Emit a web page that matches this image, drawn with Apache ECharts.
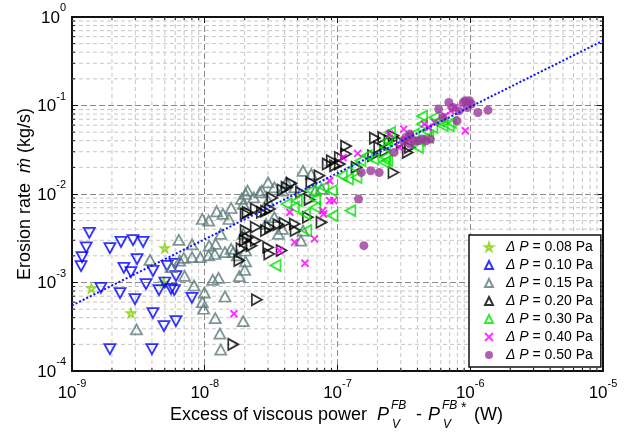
<!DOCTYPE html>
<html><head><meta charset="utf-8">
<script src="https://cdn.jsdelivr.net/npm/echarts@6/dist/echarts.min.js"></script>
<style>html,body{margin:0;padding:0;background:#fff}#c{width:643px;height:435px}</style>
</head><body><div id="c"></div>
<script>
// ---- data (x: excess viscous power W, y: erosion rate kg/s) ----
const seriesNames = ['ΔP = 0.08 Pa','ΔP = 0.10 Pa','ΔP = 0.15 Pa','ΔP = 0.20 Pa','ΔP = 0.30 Pa','ΔP = 0.40 Pa','ΔP = 0.50 Pa'];
const dp008 = [[1.40e-9,8.6e-4],[2.78e-9,4.5e-4],[5.0e-9,2.45e-3],[4.9e-9,1.0e-3]];
const dp010 = [[1.35e-9,3.63e-3],[1.28e-9,2.50e-3],[1.19e-9,1.93e-3],[1.17e-9,1.53e-3],[1.65e-9,8.7e-4],[1.93e-9,2.45e-3],[2.34e-9,2.87e-3],[2.88e-9,3.02e-3],[3.43e-9,2.87e-3],[3.09e-9,1.84e-3],[2.46e-9,1.46e-3],[2.78e-9,1.31e-3],[4.07e-9,1.35e-3],[5.2e-9,1.54e-3],[5.97e-9,1.62e-3],[6.07e-9,1.18e-3],[3.61e-9,9.6e-4],[5.0e-9,1.0e-3],[2.30e-9,7.6e-4],[2.98e-9,6.5e-4],[4.52e-9,8.2e-4],[5.57e-9,8.45e-4],[5.9e-9,8.2e-4],[8.0e-9,6.7e-4],[4.07e-9,4.5e-4],[4.93e-9,3.22e-4],[6.07e-9,3.67e-4],[1.93e-9,1.77e-4],[4.0e-9,1.77e-4]];
const dp015 = [[3.06e-9,2.95e-4],[3.87e-9,1.80e-3],[6.38e-9,3.03e-3],[8.02e-9,2.69e-3],[7.05e-9,1.19e-3],[8.3e-9,9.25e-4],[9.93e-9,7.7e-4],[9.58e-9,6.0e-4],[9.8e-9,5.05e-4],[1.20e-8,3.96e-4],[1.30e-8,2.64e-4],[1.32e-8,1.74e-4],[1.42e-8,6.95e-4],[1.95e-8,3.66e-4],[1.82e-8,1.18e-3],[2.0e-8,1.39e-3],[2.03e-8,1.73e-3],[1.15e-8,1.07e-3],[1.27e-8,1.13e-3],[1.08e-8,2.61e-3],[1.21e-8,2.73e-3],[1.32e-8,3.54e-3],[1.07e-8,5.0e-3],[1.23e-8,6.38e-3],[9.58e-9,5.22e-3],[1.37e-8,5.95e-3],[1.52e-8,5.22e-3],[1.58e-8,6.95e-3],[1.95e-8,7.71e-3],[2.03e-8,1.0e-2],[2.10e-8,1.09e-2],[1.89e-8,8.79e-3],[2.34e-8,9.17e-3],[2.60e-8,1.04e-2],[2.69e-8,1.09e-2],[3.0e-8,1.35e-2],[3.34e-8,1.19e-2],[3.85e-8,1.09e-2],[4.13e-8,1.35e-2],[4.76e-8,1.19e-2],[5.5e-8,1.83e-2],[6.34e-8,1.68e-2],[6.8e-8,1.09e-2],[7.57e-8,1.14e-2],[1.58e-8,2.40e-3],[1.19e-8,2.10e-3],[1.07e-8,2.02e-3],[9.25e-9,1.93e-3],[8.02e-9,1.93e-3],[6.95e-9,1.90e-3],[6.47e-9,1.77e-3],[1.42e-8,2.2e-3],[1.64e-8,2.2e-3],[2.03e-8,2.30e-3],[1.95e-8,3.54e-3],[2.89e-8,4.59e-3],[3.34e-8,5.46e-3],[3.85e-8,4.03e-3],[3.58e-8,3.54e-3],[5.3e-8,2.98e-3],[5.5e-8,3.86e-3],[3.0e-8,8.41e-3],[1.76e-8,2.02e-3],[5.61e-9,1.49e-3]];
const dp020 = [[1.82e-8,1.77e-3],[1.89e-8,2.40e-3],[2.0e-8,2.98e-3],[2.10e-8,3.19e-3],[2.25e-8,2.61e-3],[2.42e-8,2.98e-3],[2.03e-8,3.86e-3],[2.42e-8,4.21e-3],[2.89e-8,3.86e-3],[3.1e-8,4.21e-3],[3.58e-8,4.51e-3],[3.99e-8,4.67e-3],[4.76e-8,4.59e-3],[4.83e-8,3.86e-3],[5.98e-8,5.46e-3],[6.15e-8,8.63e-3],[5.3e-8,1.04e-2],[4.5e-8,1.32e-2],[4.13e-8,1.19e-2],[3.85e-8,1.11e-2],[3.22e-8,9.02e-3],[3.1e-8,6.78e-3],[2.89e-8,6.38e-3],[2.69e-8,6.21e-3],[2.42e-8,6.78e-3],[2.10e-8,6.21e-3],[2.03e-8,5.95e-3],[3.0e-8,2.50e-3],[3.06e-8,2.10e-3],[3.79e-8,2.30e-3],[2.47e-8,6.38e-4],[1.64e-8,2.0e-4],[7.31e-8,1.61e-2],[8.43e-8,2.18e-2],[9.05e-8,2.38e-2],[1.04e-7,2.59e-2],[1.16e-7,3.48e-2],[1.16e-7,2.83e-2],[9.58e-8,2.09e-2],[1.39e-7,2.0e-2],[1.85e-7,2.71e-2],[1.91e-7,4.28e-2],[2.21e-7,4.36e-2],[2.46e-7,4.0e-2],[2.64e-7,1.75e-2],[2.06e-7,3.36e-2],[2.29e-7,3.08e-2],[3.38e-7,2.95e-2],[3.04e-7,3.83e-2],[3.51e-7,3.36e-2],[2.64e-7,4.55e-2],[7.57e-8,4.79e-3],[6.34e-8,1.35e-2],[1.04e-7,2.18e-2]];
const dp030 = [[3.41e-8,1.56e-3],[4.70e-8,7.08e-3],[4.94e-8,8.41e-3],[5.82e-8,3.86e-3],[5.69e-8,5.95e-3],[6.8e-8,7.08e-3],[6.8e-8,8.79e-3],[9.05e-8,1.09e-2],[9.18e-8,5.7e-3],[1.25e-7,6.49e-3],[1.08e-7,1.61e-2],[1.20e-7,1.48e-2],[1.39e-7,1.54e-2],[1.34e-7,2.0e-2],[1.49e-7,2.38e-2],[1.66e-7,2.71e-2],[1.87e-7,2.48e-2],[2.29e-7,2.59e-2],[2.29e-7,3.36e-2],[2.37e-7,4.0e-2],[2.49e-7,4.96e-2],[4.04e-7,3.36e-2],[4.19e-7,4.0e-2],[4.34e-7,6.16e-2],[4.66e-7,5.18e-2],[5.19e-7,5.65e-2],[5.38e-7,7.33e-2],[5.78e-7,6.71e-2],[6.21e-7,5.9e-2],[6.9e-7,5.9e-2],[7.15e-7,6.43e-2],[2.37e-7,2.38e-2],[2.25e-7,2.28e-2],[6.34e-8,1.09e-2],[4.13e-8,7.71e-3],[7.85e-8,1.19e-2],[3.77e-7,4.75e-2],[4.83e-7,4.36e-2],[4.34e-7,7.59e-2]];
const dp040 = [[1.66e-8,4.43e-4],[3.66e-8,2.30e-3],[4.76e-8,2.85e-3],[4.37e-8,6.21e-3],[6.71e-8,3.11e-3],[5.69e-8,1.65e-3],[8.73e-8,8.41e-3],[9.38e-8,8.41e-3],[8.73e-8,1.41e-2],[7.74e-8,6.49e-3],[7.85e-8,5.95e-3],[1.10e-7,2.59e-2],[1.42e-7,2.88e-2],[2.46e-7,4.75e-2],[3.15e-7,5.41e-2],[4.5e-7,6.16e-2],[4.83e-7,5.65e-2],[6.43e-7,7.64e-2],[7.15e-7,8.7e-2],[9.18e-7,5.18e-2],[7.68e-7,9.49e-2],[5.38e-7,6.43e-2],[2.93e-7,3.36e-2]];
const dp050 = [[1.58e-7,2.61e-3],[1.44e-7,8.79e-3],[1.51e-7,1.75e-2],[1.78e-7,1.83e-2],[2.06e-7,1.75e-2],[2.67e-7,2.95e-2],[3.15e-7,4.0e-2],[3.51e-7,4.55e-2],[3.77e-7,4.0e-2],[4.04e-7,4.0e-2],[4.34e-7,4.17e-2],[4.66e-7,4.0e-2],[5.01e-7,4.17e-2],[3.51e-7,3.66e-2],[5.78e-7,9.1e-2],[6.21e-7,7.33e-2],[6.9e-7,0.108],[7.96e-7,6.71e-2],[8.25e-7,8.7e-2],[8.86e-7,0.108],[9.18e-7,0.113],[9.51e-7,9.49e-2],[1.02e-6,0.104],[1.14e-6,8.34e-2],[1.36e-6,8.86e-2],[9.86e-7,0.113],[7.41e-7,9.49e-2],[3.51e-7,4.75e-2],[3.27e-7,4.36e-2]];
// power-law fit end points
const fitX = [1e-9, 1e-5];
const fitY = [5.5e-4, 0.54];
// axis ranges and minor-tick multipliers
const xRange = [1e-9, 1e-5];
const yRange = [1e-4, 1];
const minorMult = [2,3,4,5,6,7,8,9];

const minorVals = (lo, hi) => { const out = []; for (let d = Math.round(Math.log10(lo)); d < Math.round(Math.log10(hi)); d++) minorMult.forEach(m => out.push(m * Math.pow(10, d))); return out; };
const xMinor = minorVals(xRange[0], xRange[1]);
const yMinor = minorVals(yRange[0], yRange[1]);

const FONT = 'Liberation Sans, Arial, sans-serif';
const expFmt = v => '{b|10}{e|' + Math.round(Math.log10(v)) + '}';
const expRich = {
  b: {fontSize: 17, lineHeight: 17, padding: [0,0,8,0], verticalAlign: 'bottom', color: '#000', fontFamily: FONT},
  e: {fontSize: 11, lineHeight: 11, padding: [0,0,21,0], verticalAlign: 'bottom', color: '#000', fontFamily: FONT}
};
const frameLine = {show: true, lineStyle: {color: '#111', width: 2}};
const tick = {show: true, inside: true, length: 6, lineStyle: {color: '#111', width: 1}};
const minorGridStyle = {stroke: '#c6c6c6', lineDash: [4,3], lineWidth: 1};
const minorTickStyle = {stroke: '#111', lineWidth: 1};

const hollow = (c) => ({color: 'rgba(0,0,0,0)', borderColor: c, borderWidth: 1.8});
const starPath = 'path://M50,0 L61,35 L98,35 L68,57 L79,91 L50,70 L21,91 L32,57 L2,35 L39,35 Z';
const crossPath = 'path://M0,0 L10,10 M10,0 L0,10';

const txt = (x, y, s, font) => ({type: 'text', x: x, y: y, z: 10, style: {text: s, font: font, fill: '#000', verticalAlign: 'middle'}});

const chart = echarts.init(document.getElementById('c'), null, {renderer: 'canvas'});
const option = {
  animation: false,
  backgroundColor: '#fff',
  textStyle: {fontFamily: FONT},
  grid: {left: 72, right: 40, top: 17, bottom: 64, containLabel: false, outerBoundsMode: 'none'},
  xAxis: [
    {type: 'log', logBase: 10, min: xRange[0], max: xRange[1], position: 'bottom',
     axisLine: frameLine, axisTick: tick,
     axisLabel: {margin: 22, formatter: expFmt, rich: expRich},
     splitLine: {show: true, lineStyle: {color: '#8a8a8a', type: [6,3], width: 1}}},
    {type: 'log', logBase: 10, min: xRange[0], max: xRange[1], position: 'top',
     axisLine: frameLine, axisTick: tick, axisLabel: {show: false}, splitLine: {show: false}}
  ],
  yAxis: [
    {type: 'log', logBase: 10, min: yRange[0], max: yRange[1], position: 'left',
     axisLine: frameLine, axisTick: tick,
     axisLabel: {margin: 6, formatter: expFmt, rich: expRich, padding: [18,0,0,0]},
     splitLine: {show: true, lineStyle: {color: '#8a8a8a', type: [6,3], width: 1}},
     name: '{t|Erosion rate  }{m|ṁ}{t| (kg/s)}', nameLocation: 'middle', nameGap: 38, nameMoveOverlap: false,
     nameTextStyle: {rich: {t: {fontSize: 18, color: '#000', fontFamily: FONT}, m: {fontSize: 18, fontStyle: 'italic', color: '#000', fontFamily: FONT}}}},
    {type: 'log', logBase: 10, min: yRange[0], max: yRange[1], position: 'right',
     axisLine: frameLine, axisTick: tick, axisLabel: {show: false}, splitLine: {show: false}}
  ],
  legend: {
    data: seriesNames, orient: 'vertical', left: 469, top: 235,
    backgroundColor: '#fff', borderColor: '#111', borderWidth: 1.5, borderRadius: 0,
    padding: [4, 8, 4, 15], itemGap: 2, itemWidth: 8, itemHeight: 8,
    formatter: n => '{d|Δ} {p|P}{t| = ' + n.split('= ')[1] + '}',
    textStyle: {fontSize: 14, lineHeight: 16, color: '#000', fontFamily: FONT, padding: [0,0,0,8],
      rich: {d: {fontSize: 14, fontStyle: 'italic', color: '#000'}, p: {fontSize: 14, fontStyle: 'italic', color: '#000'}, t: {fontSize: 14, color: '#000'}}}
  },
  graphic: [
    txt(170, 415, 'Excess of viscous power', '18px ' + FONT),
    txt(377, 415, 'P', 'italic 18px ' + FONT),
    txt(391, 406, 'FB', 'italic 12px ' + FONT),
    txt(392, 425, 'V', 'italic 12px ' + FONT),
    txt(416, 415, '-', '18px ' + FONT),
    txt(428, 415, 'P', 'italic 18px ' + FONT),
    txt(442, 406, 'FB', 'italic 12px ' + FONT),
    txt(461, 408, '*', '14px ' + FONT),
    txt(443, 425, 'V', 'italic 12px ' + FONT),
    txt(474, 415, '(W)', '18px ' + FONT)
  ],
  series: [
    {name: 'x-minor', type: 'custom', z: 1, silent: true, clip: false,
     data: xMinor.map(v => [v, yRange[0]]),
     renderItem: (p, api) => {
       const v = api.value(0);
       const b = api.coord([v, yRange[0]]), t = api.coord([v, yRange[1]]);
       return {type: 'group', children: [
         {type: 'line', shape: {x1: b[0], y1: b[1], x2: t[0], y2: t[1]}, style: minorGridStyle},
         {type: 'line', shape: {x1: b[0], y1: b[1], x2: b[0], y2: b[1] - 3}, style: minorTickStyle},
         {type: 'line', shape: {x1: t[0], y1: t[1], x2: t[0], y2: t[1] + 3}, style: minorTickStyle}
       ]};
     }},
    {name: 'y-minor', type: 'custom', z: 1, silent: true, clip: false,
     data: yMinor.map(v => [xRange[0], v]),
     renderItem: (p, api) => {
       const v = api.value(1);
       const l = api.coord([xRange[0], v]), r = api.coord([xRange[1], v]);
       return {type: 'group', children: [
         {type: 'line', shape: {x1: l[0], y1: l[1], x2: r[0], y2: r[1]}, style: minorGridStyle},
         {type: 'line', shape: {x1: l[0], y1: l[1], x2: l[0] + 3, y2: l[1]}, style: minorTickStyle},
         {type: 'line', shape: {x1: r[0], y1: r[1], x2: r[0] - 3, y2: r[1]}, style: minorTickStyle}
       ]};
     }},
    {name: seriesNames[0], type: 'scatter', data: dp008, symbol: starPath, symbolSize: 8, itemStyle: hollow('#7fd000'), z: 3},
    {name: seriesNames[1], type: 'scatter', data: dp010, symbol: 'triangle', symbolRotate: 180, symbolSize: [11,10], itemStyle: hollow('#0000ff'), z: 3},
    {name: seriesNames[2], type: 'scatter', data: dp015, symbol: 'triangle', symbolSize: [11,10], itemStyle: hollow('#5e7c7c'), z: 3},
    {name: seriesNames[3], type: 'scatter', data: dp020, symbol: 'triangle', symbolRotate: -90, symbolSize: [11,10], itemStyle: hollow('#000000'), z: 3},
    {name: seriesNames[4], type: 'scatter', data: dp030, symbol: 'triangle', symbolRotate: 90, symbolSize: [11,10], itemStyle: hollow('#00e600'), z: 3},
    {name: seriesNames[5], type: 'scatter', data: dp040, symbol: crossPath, symbolSize: 7, itemStyle: {color: '#ff00ff', borderColor: '#ff00ff', borderWidth: 2}, z: 3},
    {name: seriesNames[6], type: 'scatter', data: dp050, symbol: 'circle', symbolSize: 9, itemStyle: {color: '#9a3a9a'}, z: 3},
    {name: 'fit', type: 'line', data: fitX.map((x, i) => [x, fitY[i]]), symbol: 'none', z: 4,
     lineStyle: {color: '#1010ff', width: 2, type: 'dotted'}}
  ]
};
chart.setOption(option);
</script></body></html>
